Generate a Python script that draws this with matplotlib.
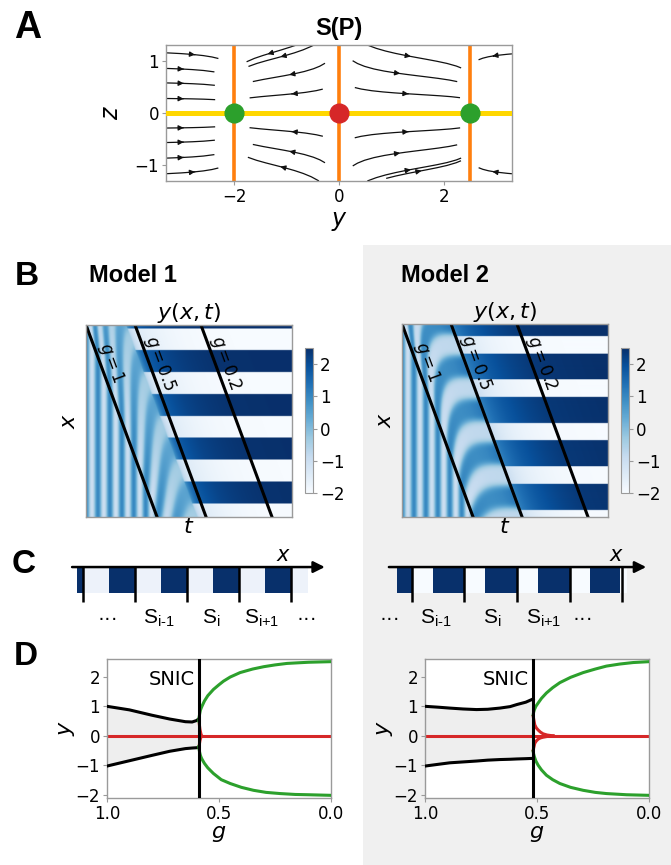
import numpy as np
import matplotlib
matplotlib.use('Agg')
import matplotlib.pyplot as plt
from matplotlib.patches import Rectangle

plt.rcParams['mathtext.fontset'] = 'dejavusans'
plt.rcParams['mathtext.rm'] = 'Liberation Sans'
plt.rcParams['mathtext.it'] = 'Liberation Sans:italic'
plt.rcParams['mathtext.bf'] = 'Liberation Sans:bold'

# ---------------- data ----------------
# Panel A: phase portrait of S(P)
fixed_y = [-2.0, 0.0, 2.5]
fixed_gap = [0.22, 0.2, 0.1]
fixed_colors = ['#2ca02c', '#d62728', '#2ca02c']
a_xticks = [-2, 0, 2]
a_yticks = [-1, 0, 1]
# streamline seed points (y, z)
seed_y = ([-2.8] * 8 + [-0.85] * 6 + [-1.45] + [1.27] * 6 + [0.9] + [3.0] * 8)
seed_z = ([1.12, 0.83, 0.56, 0.27, -0.28, -0.55, -0.84, -1.13]
          + [1.15, 0.75, 0.37, -0.36, -0.75, -1.1] + [1.1]
          + [1.1, 0.74, 0.37, -0.36, -0.75, -1.1] + [-1.25]
          + [1.1, 0.83, 0.56, 0.27, -0.28, -0.55, -0.84, -1.13])

# Panel B: wavefront lines (g value, t position at top row)
g_labels = [1.0, 0.5, 0.2]
g_line_start = [0.0, 0.238, 0.558]
g_end_t = 1.0
g_end_val = 0.0
wave_slope = 0.345
stripe_period = 0.058          # period of the vertical stripes (fraction of t axis)
band_centers_1 = [0.188, 0.417, 0.646, 0.872]
band_centers_2 = [0.220, 0.445, 0.670, 0.895]
dark_frac_1 = 0.5
dark_frac_2 = 0.6
cbar_ticks = [-2, -1, 0, 1, 2]

# Panel C: segment schematic
c1_ticks = [0, 1, 2, 3, 4]
c1_dark = [(-0.12, 0.0), (0.5, 1.0), (1.5, 2.0), (2.5, 3.0), (3.5, 4.0)]
c1_light = [(0.0, 0.5), (1.0, 1.5), (2.0, 2.5), (3.0, 3.5), (4.0, 4.33)]
c1_label_pos = [0.48, 1.46, 2.46, 3.44, 4.3]
c2_ticks = [0, 1, 2, 3, 4]
c2_dark = [(-0.29, 0.0), (0.4, 1.0), (1.39, 2.0), (2.4, 3.0), (3.39, 3.96)]
c2_light = [(0.0, 0.4), (1.0, 1.39), (2.0, 2.4), (3.0, 3.39), (3.96, 4.1)]
c2_label_pos = [-0.42, 0.46, 1.52, 2.5, 3.25]
c_labels = ['\u00b7\u00b7\u00b7', r'$\mathrm{S}_{\text{i-1}}$', r'$\mathrm{S}_{\mathrm{i}}$',
            r'$\mathrm{S}_{\text{i+1}}$', '\u00b7\u00b7\u00b7']

# Panel D: bifurcation diagrams
snic_1 = 0.59
g_blk_1 = [1.0, 0.9, 0.8, 0.72, 0.65, 0.62, 0.60, 0.59]
up_blk_1 = [1.0, 0.88, 0.70, 0.57, 0.48, 0.47, 0.52, 0.58]
lo_blk_1 = [-1.02, -0.84, -0.66, -0.52, -0.43, -0.41, -0.40, -0.39]
g_gu_1 = [0.59, 0.589, 0.586, 0.583, 0.579, 0.575, 0.565, 0.55, 0.525, 0.50, 0.48, 0.45, 0.406,
          0.35, 0.30, 0.25, 0.197, 0.15, 0.1, 0.05, 0.0]
y_gu_1 = [0.5, 0.62, 0.76, 0.87, 0.95, 1.02, 1.18, 1.36, 1.57, 1.73, 1.85, 1.99, 2.14,
          2.26, 2.34, 2.40, 2.45, 2.47, 2.49, 2.50, 2.51]
g_gl_1 = [0.59, 0.589, 0.586, 0.583, 0.579, 0.575, 0.565, 0.55, 0.525, 0.49, 0.45, 0.40,
          0.346, 0.29, 0.227, 0.16, 0.1, 0.05, 0.0]
y_gl_1 = [-0.36, -0.45, -0.57, -0.66, -0.74, -0.8, -0.93, -1.08, -1.27, -1.48, -1.61, -1.74,
          -1.84, -1.91, -1.95, -1.98, -1.99, -2.0, -2.01]
g_ru_1 = [0.588, 0.585, 0.581, 0.578]
y_ru_1 = [0.40, 0.22, 0.08, 0.0]
g_rl_1 = [0.588, 0.585, 0.581, 0.578]
y_rl_1 = [-0.30, -0.16, -0.05, 0.0]

snic_2 = 0.517
g_blk_2 = [1.0, 0.94, 0.889, 0.83, 0.77, 0.72, 0.666, 0.62, 0.59, 0.55, 0.517]
up_blk_2 = [1.0, 0.97, 0.94, 0.91, 0.89, 0.9, 0.94, 0.99, 1.06, 1.14, 1.25]
lo_blk_2 = [-1.02, -0.96, -0.91, -0.88, -0.85, -0.82, -0.80, -0.79, -0.78, -0.77, -0.76]
g_gu_2 = [0.517, 0.515, 0.512, 0.505, 0.495, 0.48, 0.458, 0.43, 0.398, 0.35, 0.294, 0.24,
          0.19, 0.13, 0.071, 0.0]
y_gu_2 = [0.72, 0.8, 0.88, 1.0, 1.11, 1.27, 1.45, 1.63, 1.8, 1.98, 2.14, 2.26,
          2.36, 2.43, 2.48, 2.51]
g_gl_2 = [0.517, 0.515, 0.512, 0.505, 0.495, 0.48, 0.458, 0.43, 0.398, 0.35, 0.294, 0.24,
          0.19, 0.1, 0.0]
y_gl_2 = [-0.53, -0.61, -0.7, -0.85, -0.99, -1.15, -1.33, -1.48, -1.61, -1.74, -1.84, -1.91,
          -1.95, -1.99, -2.01]
g_ru_2 = [0.517, 0.513, 0.51, 0.503, 0.495, 0.485, 0.473, 0.455, 0.428]
y_ru_2 = [0.66, 0.5, 0.375, 0.27, 0.2, 0.13, 0.07, 0.03, 0.0]
g_rl_2 = [0.517, 0.513, 0.51, 0.503, 0.495, 0.485, 0.473, 0.455, 0.428]
y_rl_2 = [-0.48, -0.35, -0.25, -0.17, -0.11, -0.07, -0.045, -0.02, 0.0]
d_xticks = [1.0, 0.5, 0.0]
d_yticks = [-2, -1, 0, 1, 2]

# ---------------- layout helpers ----------------
W, H = 671, 865
fig = plt.figure(figsize=(W / 100, H / 100), dpi=100)


def ax_px(l, t, r, b):
    return fig.add_axes([l / W, 1 - b / H, (r - l) / W, (b - t) / H])


def fx(px):
    return px / W


def fy(py):
    return 1 - py / H


SPINE = '#9a9a9a'

fig.patches.append(Rectangle((fx(363), 0), 1 - fx(363), fy(245), transform=fig.transFigure,
                             facecolor='#f0f0f0', edgecolor='none', zorder=-10))

bold = dict(fontweight='bold', family='Liberation Sans')
fig.text(fx(14), fy(38), 'A', fontsize=27, va='baseline', ha='left', **bold)
fig.text(fx(15), fy(285), 'B', fontsize=24, va='baseline', ha='left', **bold)
fig.text(fx(12), fy(573), 'C', fontsize=24, va='baseline', ha='left', **bold)
fig.text(fx(14), fy(665), 'D', fontsize=24, va='baseline', ha='left', **bold)
fig.text(fx(89), fy(282), 'Model 1', fontsize=17, va='baseline', ha='left', **bold)
fig.text(fx(401), fy(282), 'Model 2', fontsize=17, va='baseline', ha='left', **bold)


def style_spines(ax):
    for s in ax.spines.values():
        s.set_color(SPINE)
        s.set_linewidth(1.0)


# ---------------- Panel A ----------------
axA = ax_px(166, 45, 512, 181)
Yg, Zg = np.meshgrid(np.linspace(-3.3, 3.3, 300), np.linspace(-1.3, 1.3, 120))
U = -(Yg - fixed_y[0]) * (Yg - fixed_y[1]) * (Yg - fixed_y[2])
V = -0.9 * Zg
mask = np.zeros_like(U, dtype=bool)
for fyv, gap in zip(fixed_y, fixed_gap):
    mask |= np.abs(Yg - fyv) < gap
U = np.ma.array(U, mask=mask)
V = np.ma.array(V, mask=mask)
axA.streamplot(Yg, Zg, U, V, start_points=np.column_stack([seed_y, seed_z]),
               broken_streamlines=False, color='#111111', linewidth=0.9,
               arrowsize=0.75, zorder=1)
for fyv in fixed_y:
    axA.axvline(fyv, color='#ff7f0e', lw=2.6, zorder=2)
axA.axhline(0, color='#ffd700', lw=3.6, zorder=3)
for fyv, c in zip(fixed_y, fixed_colors):
    axA.plot([fyv], [0], 'o', color=c, ms=13.5, zorder=4)
axA.set_xlim(-3.3, 3.3)
axA.set_ylim(-1.3, 1.3)
axA.set_xticks(a_xticks)
axA.set_yticks(a_yticks)
axA.tick_params(labelsize=12, length=3, color=SPINE, pad=2)
axA.set_xlabel('$y$', fontsize=17, labelpad=2)
axA.set_ylabel('$z$', fontsize=17, labelpad=8)
axA.set_title('S(P)', fontsize=17, pad=7, **bold)
style_spines(axA)

# ---------------- Panel B ----------------
g_u_knots = g_line_start + [g_end_t]
g_u_vals = g_labels + [g_end_val]


def heat_field(centers, frac, gc, g_blk, up_blk, lo_blk, g_gu, y_gu, g_gl, y_gl, wmax, expo,
               nt=412, nx=384):
    t = (np.arange(nt) + 0.5) / nt
    x = (np.arange(nx) + 0.5) / nx
    T, X = np.meshgrid(t, x)
    u = T - wave_slope * X
    uf = np.linspace(0, 1, 4001)
    gf = np.interp(uf, g_u_knots, g_u_vals)
    rate = np.clip((gf - gc) / (1 - gc), 0, 1) ** expo
    Phi = np.concatenate([[0], np.cumsum(0.5 * (rate[1:] + rate[:-1]) * np.diff(uf))])
    Tp = stripe_period
    P = np.mean(np.diff(centers))
    c0 = centers[0]
    # effective elapsed time (oscillator slows down behind the wavefront)
    teff = np.where(u < 0, T, wave_slope * X + np.interp(u, uf, Phi))
    s = np.where(u < 0, 0.0, np.interp(u, uf, Phi) / Phi[-1])
    # phase correction so that the frozen pattern lands on the observed bands
    dcyc = (X - c0) / P - (wave_slope * X + Phi[-1]) / Tp
    dmid = np.round((0.5 - c0) / P - (wave_slope * 0.5 + Phi[-1]) / Tp)
    theta = 2 * np.pi * (teff / Tp + (dcyc - dmid) * s)
    g = np.interp(u, g_u_knots, g_u_vals)
    w = wmax * np.clip((1 - g) / (1 - gc), 0, 1) ** 0.6
    psi = theta - 0.5 * w * np.sin(2 * theta)
    upb = np.interp(g, g_blk[::-1], up_blk[::-1])
    lob = np.interp(g, g_blk[::-1], lo_blk[::-1])
    osc = 0.5 * (upb + lob) + 0.5 * (upb - lob) * np.cos(psi)
    yup = np.interp(g, g_gu[::-1], y_gu[::-1])
    ylo = np.interp(g, g_gl[::-1], y_gl[::-1])
    frozen = np.where(np.cos(theta) > np.cos(np.pi * frac), yup, ylo)
    return np.where(g > gc, osc, frozen)


def draw_heat(box, cbox, field):
    ax = ax_px(*box)
    im = ax.imshow(field, cmap='Blues', vmin=-2, vmax=2.5, extent=[0, 1, 1, 0],
                   aspect='auto', interpolation='bilinear')
    wpx, hpx = box[2] - box[0], box[3] - box[1]
    ang = -np.degrees(np.arctan2(hpx, wave_slope * wpx))
    for gl, t0 in zip(g_labels, g_line_start):
        ax.plot([t0, t0 + wave_slope], [0, 1], color='k', lw=2.2)
        xl = 0.2
        ax.text(t0 + wave_slope * xl + 0.052, xl, '$g=%g$' % gl, rotation=ang,
                rotation_mode='anchor', ha='center', va='center', fontsize=12)
    ax.set_xlim(0, 1)
    ax.set_ylim(1, 0)
    ax.set_xticks([])
    ax.set_yticks([])
    ax.set_xlabel('$t$', fontsize=16, labelpad=0)
    ax.set_ylabel('$x$', fontsize=16, labelpad=5)
    ax.set_title('$y(x,t)$', fontsize=16, pad=3)
    style_spines(ax)
    cax = ax_px(*cbox)
    cb = fig.colorbar(im, cax=cax, ticks=cbar_ticks)
    cb.outline.set_edgecolor(SPINE)
    cb.outline.set_linewidth(0.8)
    cax.tick_params(labelsize=12, length=3, color=SPINE, pad=2)


f1 = heat_field(band_centers_1, dark_frac_1, snic_1, g_blk_1, up_blk_1, lo_blk_1,
                g_gu_1, y_gu_1, g_gl_1, y_gl_1, wmax=0.4, expo=0.5)
f2 = heat_field(band_centers_2, dark_frac_2, snic_2, g_blk_2, up_blk_2, lo_blk_2,
                g_gu_2, y_gu_2, g_gl_2, y_gl_2, wmax=0.95, expo=2.5)
draw_heat((86, 325, 292, 517), (305, 348, 313, 493), f1)
draw_heat((402, 324, 608, 517), (621, 348, 629, 493), f2)

# ---------------- Panel C ----------------


def draw_c(box, u0, upx, ticks, dark, light, light_col, label_pos, arrow, xpos):
    ax = ax_px(*box)
    ax.set_xlim((box[0] - u0) / upx, (box[2] - u0) / upx)
    ax.set_ylim(-2.42, 1.04)
    ax.axis('off')
    ax.broken_barh([(a, b - a) for a, b in light], (-1, 1), facecolors=light_col, lw=0)
    ax.broken_barh([(a, b - a) for a, b in dark], (-1, 1), facecolors='#08306b', lw=0)
    for tk in ticks:
        ax.plot([tk, tk], [0, -1.35], color='k', lw=1.8, solid_capstyle='butt')
    ax.annotate('', xy=(arrow[1], 0), xytext=(arrow[0], 0),
                arrowprops=dict(arrowstyle='-|>', color='k', lw=1.8, mutation_scale=17,
                                shrinkA=0, shrinkB=0))
    ax.text(xpos, 0.46, '$x$', fontsize=15, ha='center', va='center')
    for s, p in zip(c_labels, label_pos):
        ax.text(p, -1.96, s, fontsize=15, ha='center', va='center', math_fontfamily='custom',
                family='Liberation Sans')


draw_c((60, 540, 340, 630), 83, 52.0, c1_ticks, c1_dark, c1_light, '#edf2fa',
       c1_label_pos, (-0.21, 4.65), 3.85)
draw_c((370, 540, 660, 630), 412, 52.5, c2_ticks, c2_dark, c2_light, '#f7fbff',
       c2_label_pos, (-0.44, 4.46), 3.9)

# ---------------- Panel D ----------------


def draw_d(box, snic, g_blk, up_blk, lo_blk, g_gu, y_gu, g_gl, y_gl, g_ru, y_ru, g_rl, y_rl):
    ax = ax_px(*box)
    ax.fill_between(g_blk, lo_blk, up_blk, color='#eeeeee', lw=0, zorder=0)
    ax.plot([1.0, 0.0], [0, 0], color='#d62728', lw=2.2, zorder=2)
    ax.plot(g_ru, y_ru, color='#d62728', lw=2.2, zorder=2)
    ax.plot(g_rl, y_rl, color='#d62728', lw=2.2, zorder=2)
    ax.plot(g_blk, up_blk, color='k', lw=2.2, zorder=3)
    ax.plot(g_blk, lo_blk, color='k', lw=2.2, zorder=3)
    ax.plot(g_gu, y_gu, color='#2ca02c', lw=2.2, zorder=3)
    ax.plot(g_gl, y_gl, color='#2ca02c', lw=2.2, zorder=3)
    ax.axvline(snic, color='k', lw=2.2, zorder=4)
    ax.text(snic + 0.018, 2.22, 'SNIC', fontsize=14, ha='right', va='top')
    ax.set_xlim(1.0, 0.0)
    ax.set_ylim(-2.1, 2.6)
    ax.set_xticks(d_xticks)
    ax.set_xticklabels(['%.1f' % v for v in d_xticks])
    ax.set_yticks(d_yticks)
    ax.tick_params(labelsize=12, length=3, color=SPINE, pad=2)
    ax.set_xlabel('$g$', fontsize=16, labelpad=1)
    ax.set_ylabel('$y$', fontsize=16, labelpad=-1)
    style_spines(ax)


draw_d((107, 659, 331, 798), snic_1, g_blk_1, up_blk_1, lo_blk_1, g_gu_1, y_gu_1,
       g_gl_1, y_gl_1, g_ru_1, y_ru_1, g_rl_1, y_rl_1)
draw_d((425, 659, 649, 798), snic_2, g_blk_2, up_blk_2, lo_blk_2, g_gu_2, y_gu_2,
       g_gl_2, y_gl_2, g_ru_2, y_ru_2, g_rl_2, y_rl_2)

fig.savefig('out.png', dpi=100)
